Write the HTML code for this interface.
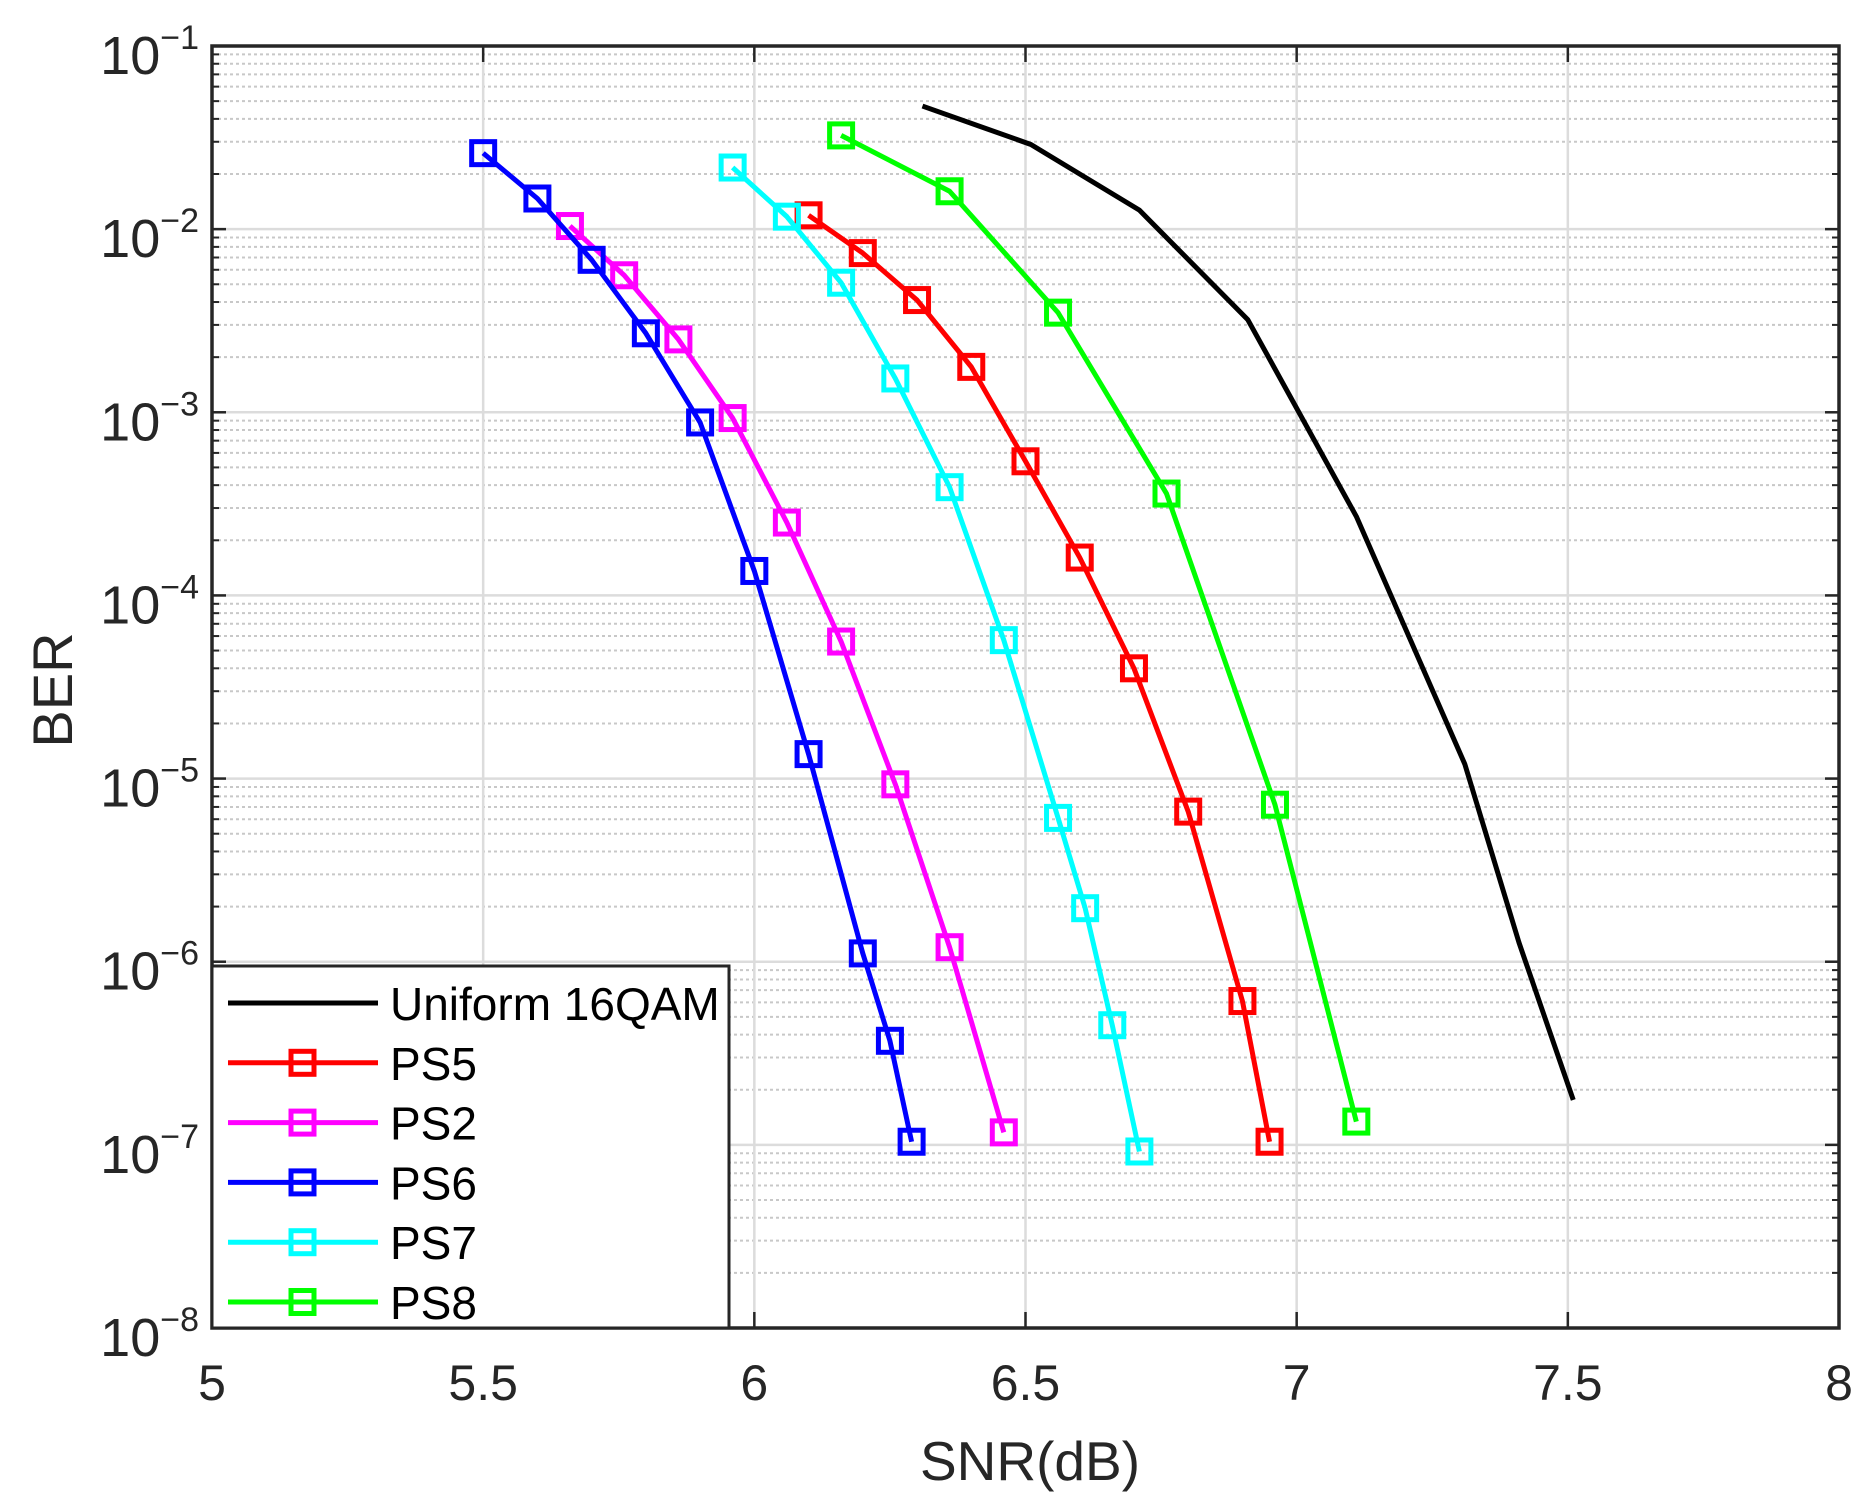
<!DOCTYPE html>
<html><head><meta charset="utf-8"><style>
html,body{margin:0;padding:0;background:#fff}
svg{display:block;font-family:"Liberation Sans",sans-serif}
</style></head><body>
<svg id="chart" width="1870" height="1504" viewBox="0 0 1870 1504" xmlns="http://www.w3.org/2000/svg">
<g id="grid"></g>
<g id="series"></g>
<g id="axes"></g>
<g id="legend"></g>
</svg>
<script>
const xTicks=[5,5.5,6,6.5,7,7.5,8];
const xTickLabels=["5","5.5","6","6.5","7","7.5","8"];
const yExps=[-8,-7,-6,-5,-4,-3,-2,-1];
const seriesNames=["Uniform 16QAM","PS5","PS2","PS6","PS7","PS8"];
const seriesColors=["#000000","#ff0000","#ff00ff","#0000ff","#00ffff","#00ff00"];
const uniformX=[6.31,6.51,6.71,6.91,7.11,7.31,7.41,7.51];
const uniformY=[4.7e-2,2.9e-2,1.27e-2,3.2e-3,2.7e-4,1.2e-5,1.27e-6,1.76e-7];
const ps5X=[6.1,6.2,6.3,6.4,6.5,6.6,6.7,6.8,6.9,6.95];
const ps5Y=[1.19e-2,7.4e-3,4.1e-3,1.77e-3,5.4e-4,1.61e-4,4.0e-5,6.6e-6,6.1e-7,1.04e-7];
const ps2X=[5.66,5.76,5.86,5.96,6.06,6.16,6.26,6.36,6.46];
const ps2Y=[1.04e-2,5.6e-3,2.5e-3,9.3e-4,2.5e-4,5.6e-5,9.3e-6,1.2e-6,1.17e-7];
const ps6X=[5.5,5.6,5.7,5.8,5.9,6.0,6.1,6.2,6.25,6.29];
const ps6Y=[2.6e-2,1.47e-2,6.8e-3,2.7e-3,8.8e-4,1.36e-4,1.36e-5,1.11e-6,3.7e-7,1.04e-7];
const ps7X=[5.96,6.06,6.16,6.26,6.36,6.46,6.56,6.61,6.66,6.71];
const ps7Y=[2.17e-2,1.17e-2,5.1e-3,1.53e-3,3.9e-4,5.7e-5,6.1e-6,1.96e-6,4.5e-7,9.2e-8];
const ps8X=[6.16,6.36,6.56,6.76,6.96,7.11];
const ps8Y=[3.25e-2,1.61e-2,3.5e-3,3.6e-4,7.2e-6,1.34e-7];

const NS="http://www.w3.org/2000/svg";
const L=212,R=1839,T=46,B=1328;
const xMin=5,xMax=8,eMin=-8,eMax=-1;
function sx(v){return L+(v-xMin)/(xMax-xMin)*(R-L);}
function sy(v){return B-(Math.log10(v)-eMin)/(eMax-eMin)*(B-T);}
function mk(tag,attrs,parent){const e=document.createElementNS(NS,tag);for(const k in attrs)e.setAttribute(k,attrs[k]);parent.appendChild(e);return e;}
const grid=document.getElementById('grid'),axes=document.getElementById('axes'),ser=document.getElementById('series'),leg=document.getElementById('legend');

for(let e=eMin;e<eMax;e++){for(let m=2;m<=9;m++){const y=sy(m*Math.pow(10,e));
 const g=mk('line',{x1:L,x2:R,y1:y,y2:y,stroke:'#c8c8c8','stroke-width':2,'stroke-dasharray':'3 3'},grid);
 
 
 mk('line',{x1:L,x2:L+7,y1:y,y2:y,stroke:'#262626','stroke-width':2},axes);
 mk('line',{x1:R,x2:R-7,y1:y,y2:y,stroke:'#262626','stroke-width':2},axes);}}
yExps.forEach(e=>{const y=sy(Math.pow(10,e));
 const g=mk('line',{x1:L,x2:R,y1:y,y2:y,stroke:'#dcdcdc','stroke-width':2.5},grid);
 
 
 mk('line',{x1:L,x2:L+14,y1:y,y2:y,stroke:'#262626','stroke-width':2.5},axes);
 mk('line',{x1:R,x2:R-14,y1:y,y2:y,stroke:'#262626','stroke-width':2.5},axes);
 const t=mk('text',{x:199,y:y+28,'text-anchor':'end',fill:'#262626','font-size':54},axes);
 
 
 t.innerHTML='10<tspan dy="-25" font-size="34">\u2212'+(-e)+'</tspan>';
});
xTicks.forEach((v,i)=>{const x=sx(v);
 const g=mk('line',{x1:x,x2:x,y1:T,y2:B,stroke:'#dcdcdc','stroke-width':2.5},grid);
 
 
 mk('line',{x1:x,x2:x,y1:B,y2:B-16,stroke:'#262626','stroke-width':2.5},axes);
 mk('line',{x1:x,x2:x,y1:T,y2:T+16,stroke:'#262626','stroke-width':2.5},axes);
 const t=mk('text',{x:x,y:1400,'text-anchor':'middle',fill:'#262626','font-size':50},axes);
 
 
 t.textContent=xTickLabels[i];
});
const fr=mk('rect',{x:L,y:T,width:R-L,height:B-T,fill:'none',stroke:'#262626','stroke-width':3.5},axes);


const xl=mk('text',{x:1030,y:1480,'text-anchor':'middle',fill:'#262626','font-size':55},axes);


xl.textContent='SNR(dB)';
const yl=mk('text',{x:0,y:0,'text-anchor':'middle',fill:'#262626','font-size':56,transform:'translate(72,690) rotate(-90)'},axes);


yl.textContent='BER';

const data=[[uniformX,uniformY],[ps5X,ps5Y],[ps2X,ps2Y],[ps6X,ps6Y],[ps7X,ps7Y],[ps8X,ps8Y]];
data.forEach((d,i)=>{
 const pts=d[0].map((x,j)=>sx(x)+','+sy(d[1][j])).join(' ');
 const pl=mk('polyline',{points:pts,fill:'none',stroke:seriesColors[i],'stroke-width':5,'stroke-linejoin':'round'},ser);
 
 
 if(i>0){d[0].forEach((x,j)=>{
  const r=mk('rect',{x:sx(x)-11.5,y:sy(d[1][j])-11.5,width:23,height:23,fill:'none',stroke:seriesColors[i],'stroke-width':5},ser);
  
  
 });}
});

const lb=mk('rect',{x:L,y:966,width:517,height:B-966,fill:'#fff',stroke:'#262626','stroke-width':3},leg);


seriesNames.forEach((n,i)=>{const y=1003+i*59.8;
 const g=mk('g',{},leg);
 
 
 mk('line',{x1:228,x2:378,y1:y,y2:y,stroke:seriesColors[i],'stroke-width':5},g);
 if(i>0) mk('rect',{x:291,y:y-11.5,width:23,height:23,fill:'none',stroke:seriesColors[i],'stroke-width':5},g);
 const t=mk('text',{x:390,y:y+17,fill:'#000','font-size':46},g);
 t.textContent=n;
});
</script>
</body></html>
